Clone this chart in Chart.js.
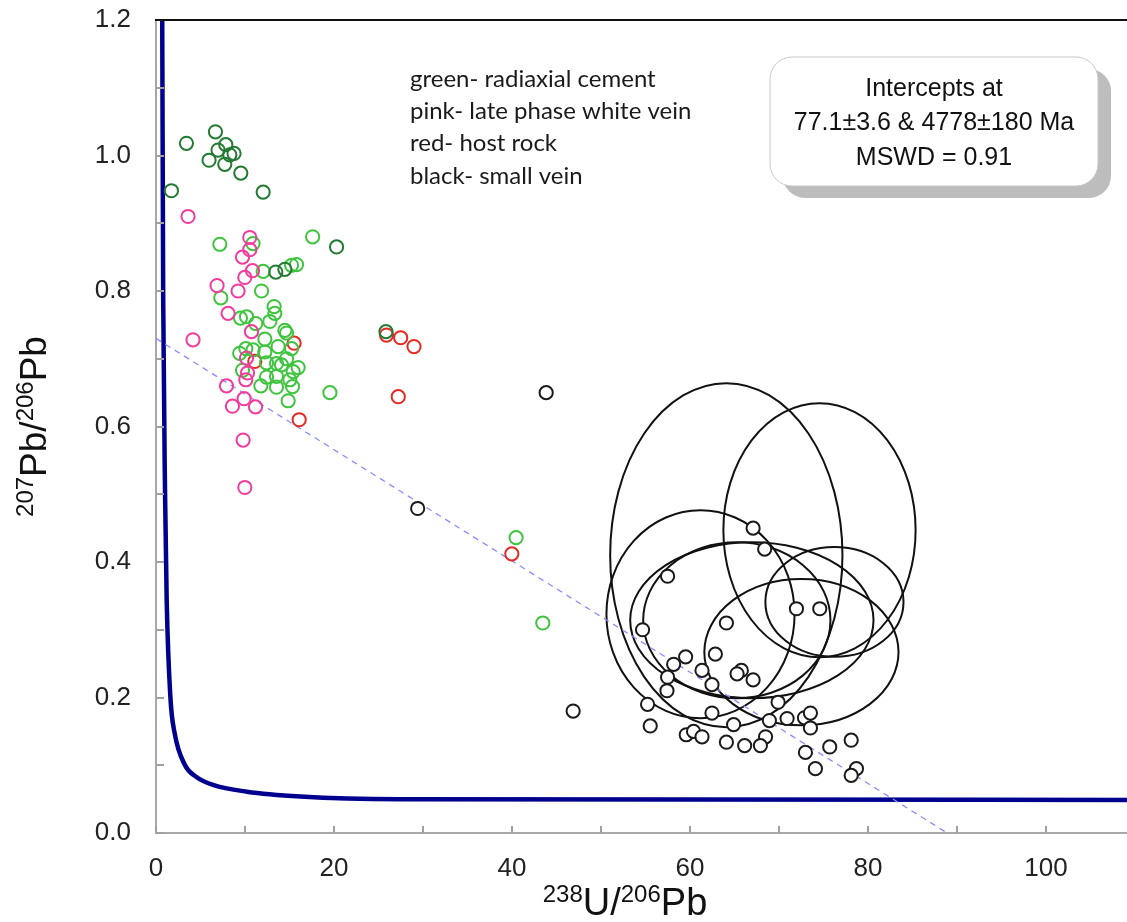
<!DOCTYPE html>
<html>
<head>
<meta charset="utf-8">
<script src="https://cdn.jsdelivr.net/npm/chart.js@4.4.1/dist/chart.umd.min.js"></script>
<style>
  html, body { margin: 0; padding: 0; background: #fff; overflow: hidden; }
  #wrap { width: 1135px; height: 922px; }
</style>
</head>
<body>
<div id="wrap"><canvas id="c" width="1135" height="922"></canvas></div>
<script>
// Tick labels shown on the axes (intermediate ticks are unlabelled)
const xTickLabels = ['0', '20', '40', '60', '80', '100'];
const yTickLabels = ['0.0', '0.2', '0.4', '0.6', '0.8', '1.0', '1.2'];

// Sample groups: [238U/206Pb, 207Pb/206Pb]
const radiaxialDark = [
  [1.73,0.948],[3.42,1.018],[6.68,1.035],[5.96,0.993],[6.97,1.008],[7.84,1.016],[8.77,1.003],
  [8.29,1.001],[7.73,0.987],[9.53,0.974],[12.04,0.946],[20.29,0.865],[13.46,0.828],[14.48,0.832],
  [25.84,0.740]
];
const radiaxialLight = [
  [7.17,0.869],[17.6,0.880],[12.04,0.829],[15.23,0.838],[15.79,0.839],[10.9,0.870],[11.86,0.800],
  [7.28,0.790],[9.49,0.760],[10.17,0.762],[13.27,0.777],[13.35,0.767],[11.21,0.752],[14.48,0.742],
  [14.67,0.738],[12.23,0.729],[12.79,0.755],[10.09,0.715],[10.91,0.713],[12.23,0.710],[13.72,0.718],
  [15.23,0.715],[12.42,0.694],[13.54,0.693],[14.67,0.700],[14.1,0.691],[15.97,0.687],[9.72,0.683],
  [15.41,0.681],[12.42,0.673],[13.54,0.674],[15.04,0.669],[11.78,0.660],[13.54,0.658],[15.34,0.659],
  [14.85,0.638],[19.54,0.650],[9.4,0.708],[40.46,0.436],[43.46,0.310]
];
const lateVein = [
  [3.6,0.910],[10.54,0.879],[10.54,0.861],[9.72,0.850],[10.84,0.830],[9.98,0.820],[6.86,0.808],
  [9.22,0.800],[8.1,0.767],[10.73,0.740],[4.16,0.728],[10.17,0.701],[10.28,0.679],[10.09,0.669],
  [7.92,0.660],[9.9,0.641],[8.59,0.630],[11.18,0.629],[9.79,0.580],[9.98,0.510]
];
const hostRock = [
  [15.52,0.723],[11.1,0.696],[16.09,0.610],[25.9,0.735],[27.49,0.731],[28.99,0.718],[27.22,0.644],
  [39.98,0.412]
];
const smallVein = [
  [43.84,0.650],[29.4,0.479],[46.87,0.180],
  [67.09,0.450],[68.39,0.419],[57.48,0.379],[71.96,0.331],[74.58,0.331],[54.67,0.300],[64.09,0.310],
  [62.85,0.264],[59.51,0.260],[58.16,0.249],[61.35,0.240],[65.77,0.240],[65.29,0.235],[67.09,0.226],
  [57.48,0.230],[62.47,0.219],[57.41,0.210],[69.9,0.193],[55.23,0.190],[62.47,0.177],[68.92,0.166],
  [70.91,0.169],[72.86,0.170],[73.53,0.177],[73.53,0.155],[64.9,0.160],[55.53,0.158],[68.49,0.142],
  [67.91,0.129],[59.58,0.145],[60.4,0.150],[61.35,0.142],[64.09,0.134],[66.14,0.129],[72.97,0.119],
  [75.7,0.127],[78.11,0.137],[74.09,0.095],[78.7,0.095],[78.11,0.085]
];

// Error ellipses of the small-vein spots: [centre x, centre y, half-width x, half-height y]
const errorEllipses = [
  [64.08, 0.410, 13.05, 0.254],
  [74.55, 0.447, 10.80, 0.1875],
  [61.18, 0.323, 10.57, 0.1535],
  [66.95, 0.314, 13.67, 0.115],
  [65.26, 0.314, 10.52, 0.115],
  [76.23, 0.341, 7.76, 0.081],
  [72.52, 0.267, 10.91, 0.108]
];

// Concordia curve traced as [x, y] vertices
const concordia = [
  [0.70,1.2],[0.81,0.787],[1.03,0.49],[1.2,0.344],[1.62,0.2],[2.1,0.147],[3.26,0.1],[4.5,0.083],
  [6.4,0.071],[10.2,0.061],[16.2,0.054],[27.4,0.050],[60,0.0496],[110,0.0487]
];

// Discordia regression line end points
const discordia = [[0, 0.730], [88.9, 0]];

// Legend notes and intercept box text
const legendLines = ['green- radiaxial cement', 'pink- late phase white vein', 'red- host rock', 'black- small vein'];
const interceptLines = ['Intercepts at', '77.1\u00b13.6 & 4778\u00b1180 Ma', 'MSWD = 0.91'];

const toXY = arr => arr.map(([x, y]) => ({ x, y }));

function drawRich(ctx, parts, big, small, raise) {
  let total = 0;
  for (const p of parts) {
    ctx.font = (p.sup ? small : big) + 'px "Liberation Sans", Arial, sans-serif';
    p.w = ctx.measureText(p.t).width;
    total += p.w;
  }
  let cx = -total / 2;
  for (const p of parts) {
    ctx.font = (p.sup ? small : big) + 'px "Liberation Sans", Arial, sans-serif';
    ctx.fillText(p.t, cx, p.sup ? -raise : 0);
    cx += p.w;
  }
}

const decorations = {
  id: 'decorations',
  beforeDatasetsDraw(chart) {
    const { ctx, chartArea: a, scales: { x, y } } = chart;
    ctx.save();
    ctx.beginPath();
    ctx.rect(a.left, a.top, a.right - a.left, a.bottom - a.top);
    ctx.clip();
    ctx.strokeStyle = '#111';
    ctx.lineWidth = 2;
    for (const [cx, cy, rx, ry] of errorEllipses) {
      const px = x.getPixelForValue(cx), py = y.getPixelForValue(cy);
      const prx = Math.abs(x.getPixelForValue(cx + rx) - px);
      const pry = Math.abs(y.getPixelForValue(cy + ry) - py);
      ctx.beginPath();
      ctx.ellipse(px, py, prx, pry, 0, 0, Math.PI * 2);
      ctx.stroke();
    }
    ctx.restore();
  },
  afterDraw(chart) {
    const { ctx, chartArea: a, scales: { x, y } } = chart;
    ctx.save();
    // inward tick marks
    ctx.strokeStyle = '#a0a0a0';
    ctx.lineWidth = 2;
    ctx.beginPath();
    for (const t of x.ticks) {
      const px = Math.round(x.getPixelForValue(t.value));
      ctx.moveTo(px, a.bottom); ctx.lineTo(px, a.bottom - 7);
    }
    for (const t of y.ticks) {
      const py = Math.round(y.getPixelForValue(t.value));
      ctx.moveTo(a.left, py); ctx.lineTo(a.left + 8, py);
    }
    ctx.stroke();
    // top frame line
    ctx.strokeStyle = '#111';
    ctx.beginPath();
    ctx.moveTo(a.left - 1, a.top); ctx.lineTo(a.right, a.top);
    ctx.stroke();

    // axis titles with superscript isotope masses
    ctx.fillStyle = '#111';
    ctx.textBaseline = 'alphabetic';
    ctx.textAlign = 'left';
    ctx.save();
    ctx.translate(625, 915);
    drawRich(ctx, [{ t: '238', sup: true }, { t: 'U/' }, { t: '206', sup: true }, { t: 'Pb' }], 38, 24, 13);
    ctx.restore();
    ctx.save();
    ctx.translate(46, (a.top + a.bottom) / 2);
    ctx.rotate(-Math.PI / 2);
    drawRich(ctx, [{ t: '207', sup: true }, { t: 'Pb/' }, { t: '206', sup: true }, { t: 'Pb' }], 37, 24, 13);
    ctx.restore();

    // colour key notes
    ctx.fillStyle = '#1a1a1a';
    ctx.font = '24px Lato, "Open Sans", sans-serif';
    ctx.textBaseline = 'middle';
    legendLines.forEach((s, i) => ctx.fillText(s, 410, 79 + i * 32.3));

    // intercept box with drop shadow
    const bx = 770, by = 57, bw = 328, bh = 129, r = 22;
    ctx.fillStyle = '#bdbdbd';
    ctx.beginPath();
    ctx.roundRect(bx + 13, by + 12, bw, bh, r);
    ctx.fill();
    ctx.fillStyle = '#fff';
    ctx.strokeStyle = '#c8c8c8';
    ctx.lineWidth = 1;
    ctx.beginPath();
    ctx.roundRect(bx, by, bw, bh, r);
    ctx.fill();
    ctx.stroke();
    ctx.fillStyle = '#111';
    ctx.textAlign = 'center';
    ctx.font = '25px "Liberation Sans", Arial, sans-serif';
    interceptLines.forEach((s, i) => ctx.fillText(s, bx + bw / 2, 89 + i * 34.5));
    ctx.restore();
  }
};

const pointSet = (label, data, color, fill, order) => ({
  label, data: toXY(data), showLine: false,
  pointRadius: 6.6, pointBorderWidth: 2, pointHoverRadius: 6.6,
  borderColor: color, pointBorderColor: color, backgroundColor: fill, pointBackgroundColor: fill,
  order
});

new Chart(document.getElementById('c'), {
  type: 'scatter',
  data: {
    datasets: [
      {
        label: 'concordia', data: toXY(concordia), showLine: true, pointRadius: 0,
        borderColor: '#00008e', borderWidth: 4.5, cubicInterpolationMode: 'monotone', order: 20
      },
      {
        label: 'discordia', data: toXY(discordia), showLine: true, pointRadius: 0,
        borderColor: '#8c8cff', borderWidth: 1.3, borderDash: [6, 5], order: 19
      },
      pointSet('host rock', hostRock, '#e52a24', 'rgba(0,0,0,0)', 6),
      pointSet('radiaxial cement', radiaxialLight, '#3fc43f', 'rgba(0,0,0,0)', 5),
      pointSet('late phase white vein', lateVein, '#f03d9c', 'rgba(0,0,0,0)', 4),
      pointSet('radiaxial cement (dark)', radiaxialDark, '#237a33', 'rgba(0,0,0,0)', 3),
      pointSet('small vein', smallVein, '#1a1a1a', '#ffffff', 1)
    ]
  },
  options: {
    responsive: false,
    animation: false,
    events: [],
    layout: { autoPadding: false, padding: { top: 20, right: 0, left: 0, bottom: 0 } },
    plugins: { legend: { display: false }, tooltip: { enabled: false } },
    scales: {
      x: {
        type: 'linear', min: 0, max: 110,
        ticks: {
          stepSize: 10, autoSkip: false, maxRotation: 0, padding: 20, color: '#222',
          font: { size: 26, family: '"Liberation Sans", Arial, sans-serif' },
          callback: v => xTickLabels.includes(String(v)) ? String(v) : ''
        },
        grid: { drawOnChartArea: false, drawTicks: false },
        border: { color: '#a8a8a8', width: 2 },
        afterFit: s => { s.height = 89; s.paddingLeft = 0; s.paddingRight = 0; }
      },
      y: {
        type: 'linear', min: 0, max: 1.2,
        ticks: {
          stepSize: 0.1, autoSkip: false, padding: 25, color: '#222',
          font: { size: 26, family: '"Liberation Sans", Arial, sans-serif' },
          callback: v => { const s = (Math.round(v * 10) / 10).toFixed(1); return yTickLabels.includes(s) ? s : ''; }
        },
        grid: { drawOnChartArea: false, drawTicks: false },
        border: { color: '#a8a8a8', width: 2 },
        afterFit: s => { s.width = 156; s.paddingTop = 0; s.paddingBottom = 0; }
      }
    }
  },
  plugins: [decorations]
});
</script>
</body>
</html>
